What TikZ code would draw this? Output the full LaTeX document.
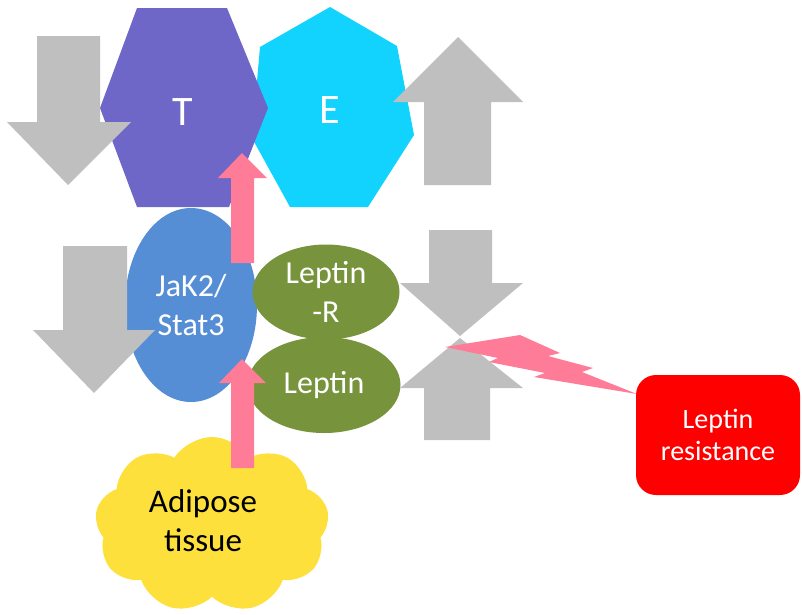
\documentclass[tikz,border=0pt]{standalone}
\usepackage{fontspec}
\setmainfont{Carlito}
\usetikzlibrary{shapes.geometric,shapes.symbols}
\definecolor{tpurple}{HTML}{6E67C8}
\definecolor{ecyan}{HTML}{12D2FE}
\definecolor{arrgray}{HTML}{BFBFBF}
\definecolor{jakblue}{HTML}{558ED5}
\definecolor{lepgreen}{HTML}{77933C}
\definecolor{pinkarr}{HTML}{FF7C98}
\definecolor{resred}{HTML}{FF0000}
\definecolor{adiyellow}{HTML}{FDE03C}
\tikzset{
  grayarrow/.style={fill=arrgray},
  pinkshape/.style={fill=pinkarr},
  bigtxt/.style={text=white,font=\fontsize{42}{50}\selectfont,inner sep=0pt},
  midtxt/.style={text=white,font=\fontsize{32}{39}\selectfont,align=center,inner sep=0pt},
  blob/.style={ellipse,inner sep=0pt},
}
\begin{document}
\begin{tikzpicture}[x=1pt,y=-1pt]
\useasboundingbox (0,0) rectangle (802,614);
% E heptagon
\fill[ecyan] (330,7) -- (397,46) -- (414,135) -- (368,207) -- (290,207) -- (252,138) -- (260,47) -- cycle;
\node[bigtxt] (E) at (329.5,110.5) {E};
% T hexagon
\fill[tpurple] (137,8) -- (227,8) -- (268,108) -- (229,207) -- (137,207) -- (100,108) -- cycle;
\node[bigtxt] (T) at (182.5,112) {T};
% gray arrow top left (down)
\fill[grayarrow] (37,36) -- (100,36) -- (100,122) -- (131,122) -- (68,185) -- (7,122) -- (37,122) -- cycle;
% gray arrow top right (up)
\fill[grayarrow] (424,185) -- (491,185) -- (491,102) -- (523,102) -- (458,37) -- (393,102) -- (424,102) -- cycle;
% JaK2/Stat3
\node[blob,fill=jakblue,minimum width=132pt,minimum height=194pt,midtxt] (jak) at (191,305) {JaK2/\\Stat3};
% gray arrow left middle (down)
\fill[grayarrow] (63,246) -- (127,246) -- (127,330) -- (155,330) -- (94,393) -- (33,330) -- (63,330) -- cycle;
% green ellipses
\node[blob,fill=lepgreen,minimum width=147pt,minimum height=95pt,midtxt] (lepr) at (326,292) {Leptin\\-R};
\node[blob,fill=lepgreen,minimum width=153pt,minimum height=96pt,midtxt] (lep) at (324,385) {Leptin};
% gray arrows right middle
\fill[grayarrow] (429,230) -- (492,230) -- (492,283) -- (523,283) -- (460,336) -- (400,283) -- (429,283) -- cycle;
\fill[grayarrow] (424,440) -- (490,440) -- (490,388) -- (523,388) -- (460,338) -- (400,388) -- (424,388) -- cycle;
% adipose cloud
\node[cloud,cloud puffs=9,cloud puff arc=115,aspect=1.33,fill=adiyellow,minimum width=234pt,minimum height=176pt,inner sep=0pt] (cloud) at (212,525) {};
\node[font=\fontsize{33}{39}\selectfont,align=center,inner sep=0pt] (adipose) at (203,521) {Adipose\\tissue};
% pink arrows
\fill[pinkshape] (231,263) -- (254,263) -- (254,178) -- (267,178) -- (242,153) -- (218,178) -- (231,178) -- cycle;
\fill[pinkshape] (231,468) -- (254,468) -- (254,383) -- (266,383) -- (242,359) -- (219,383) -- (231,383) -- cycle;
% Leptin resistance box
\node[fill=resred,rounded corners=20pt,minimum width=164pt,minimum height=120pt,inner sep=0pt,
      text=white,font=\fontsize{28}{32}\selectfont,align=center] (res) at (718,435) {Leptin\\resistance};
% lightning bolt
\coordinate (boltend) at (637,394);
\coordinate (boltstart) at (445,347);
\fill[pinkshape] (boltstart) -- (520,335) -- (560,353) -- (548,356) -- (593,368) -- (582,372) -- (boltend) -- (534,377) -- (545,373) -- (489,362) -- (498,358) -- cycle;
\end{tikzpicture}
\end{document}
